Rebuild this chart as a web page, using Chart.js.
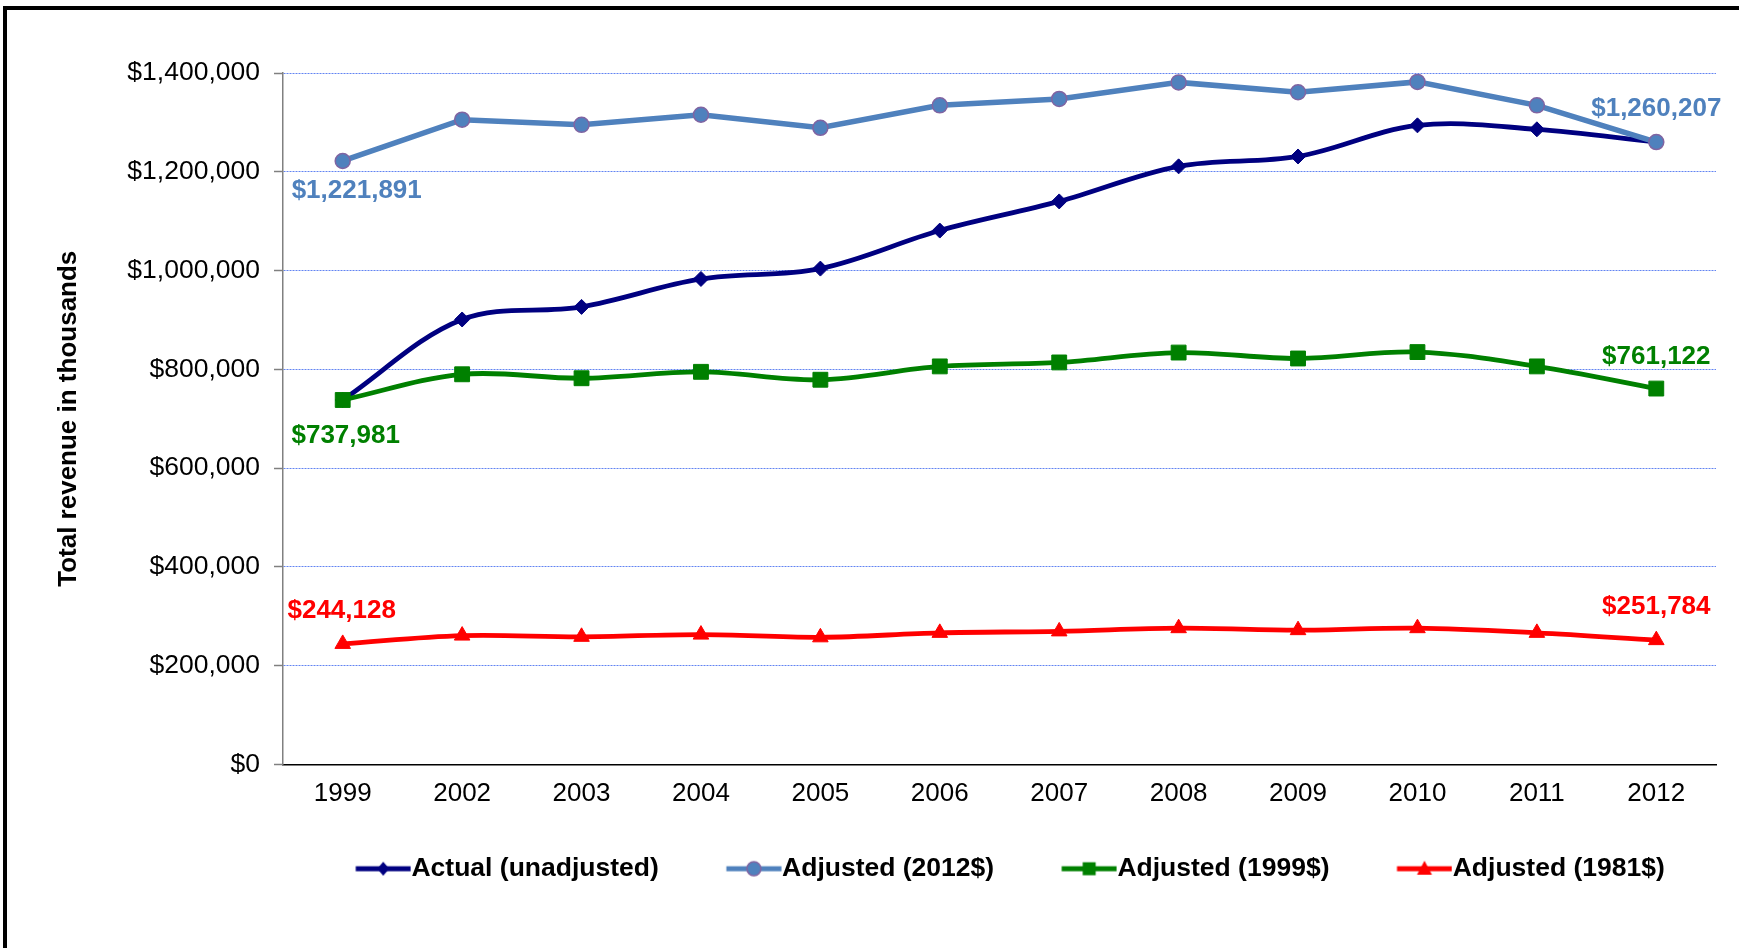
<!DOCTYPE html>
<html>
<head>
<meta charset="utf-8">
<title>Total revenue in thousands, 1999–2012</title>
<script src="https://cdn.jsdelivr.net/npm/chart.js@4/dist/chart.umd.min.js"></script>
<style>
  html, body { margin: 0; padding: 0; background: #fff; }
  #wrap { position: relative; width: 1739px; height: 948px; overflow: hidden; }
  #frame { position: absolute; left: 3px; top: 6px; right: -10px; bottom: -10px;
           border-left: 4px solid #000; border-top: 4px solid #000; pointer-events: none; }
  canvas { position: absolute; left: 0; top: 0; }
</style>
</head>
<body>
<div id="wrap">
  <canvas id="chart" width="1739" height="948"></canvas>
  <div id="frame"></div>
</div>
<script>
// ---- data ----
const years = ['1999', '2002', '2003', '2004', '2005', '2006', '2007', '2008', '2009', '2010', '2011', '2012'];
const actualRevenue = [737981, 901000, 926500, 983000, 1004000, 1081000, 1140000, 1211000, 1231000, 1294000, 1286000, 1260207];
const adjusted2012 = [1221891, 1305500, 1295000, 1315500, 1289000, 1334500, 1347500, 1381000, 1361000, 1382000, 1334500, 1260207];
const adjusted1999 = [737981, 790000, 782000, 795000, 779000, 806000, 814000, 834000, 822000, 835000, 806000, 761122];
const adjusted1981 = [244128, 261000, 258500, 263000, 257500, 266500, 269500, 276000, 272000, 276000, 266500, 251784];
const seriesNames = ['Actual (unadjusted)', 'Adjusted (2012$)', 'Adjusted (1999$)', 'Adjusted (1981$)'];
const yTickValues = [0, 200000, 400000, 600000, 800000, 1000000, 1200000, 1400000];
const yTitle = 'Total revenue in thousands';

// ---- styling ----
const FONT = "'Liberation Sans', Arial, Helvetica, sans-serif";
const NAVY = '#000080', STEEL = '#4F81BD', PURPLE = '#8064A2', GREEN = '#008000', RED = '#FF0000';
const money = v => '$' + Math.round(v).toLocaleString('en-US');

// value callouts at the first and last year (dataset, point, offset from the point)
const callouts = [
  { ds: 1, i: 0,  dx: 14, dy: 30 },
  { ds: 1, i: 11, dx: 0,  dy: -33 },
  { ds: 2, i: 0,  dx: 3,  dy: 36 },
  { ds: 2, i: 11, dx: 0,  dy: -32 },
  { ds: 3, i: 0,  dx: -1, dy: -33 },
  { ds: 3, i: 11, dx: 0,  dy: -33 }
];

// legend swatch: a short line segment with the series marker in its middle.
// The legend box is 64px wide; the swatch canvas is centred on it and its
// right edge meets the start of the label text.
const SWATCH_BOX = 64;
function swatch(color, marker) {
  const c = document.createElement('canvas');
  c.width = 90; c.height = 22;
  const g = c.getContext('2d');
  const x0 = 34.5, x1 = 89.5, y = 11, cx = (x0 + x1) / 2;
  g.strokeStyle = color; g.lineWidth = 5; g.lineCap = 'butt';
  g.beginPath(); g.moveTo(x0, y); g.lineTo(x1, y); g.stroke();
  g.fillStyle = color;
  g.beginPath();
  if (marker === 'diamond') {
    g.moveTo(cx, y - 7); g.lineTo(cx + 6, y); g.lineTo(cx, y + 7); g.lineTo(cx - 6, y); g.closePath(); g.fill();
  } else if (marker === 'circle') {
    g.arc(cx, y, 7, 0, Math.PI * 2); g.fill();
    g.strokeStyle = PURPLE; g.lineWidth = 1.5; g.stroke();
  } else if (marker === 'square') {
    g.rect(cx - 6.5, y - 6.5, 13, 13); g.fill();
  } else if (marker === 'triangle') {
    g.moveTo(cx, y - 8); g.lineTo(cx + 7.5, y + 6); g.lineTo(cx - 7.5, y + 6); g.closePath(); g.fill();
  }
  return c;
}
const legendSwatches = [
  swatch(NAVY, 'diamond'), swatch(STEEL, 'circle'), swatch(GREEN, 'square'), swatch(RED, 'triangle')
];

const calloutPlugin = {
  id: 'callouts',
  afterDatasetsDraw(chart) {
    const ctx = chart.ctx;
    ctx.save();
    ctx.font = 'bold 26px ' + FONT;
    ctx.textAlign = 'center';
    ctx.textBaseline = 'middle';
    callouts.forEach(c => {
      const ds = chart.data.datasets[c.ds];
      const pt = chart.getDatasetMeta(c.ds).data[c.i];
      ctx.fillStyle = ds.borderColor;
      ctx.fillText(money(ds.data[c.i]), pt.x + c.dx, pt.y + c.dy);
    });
    ctx.restore();
  }
};

const PAD_LEFT = 38;

new Chart(document.getElementById('chart'), {
  type: 'line',
  data: {
    labels: years,
    datasets: [
      { label: seriesNames[0], data: actualRevenue, order: 3,
        borderColor: NAVY, backgroundColor: NAVY, borderWidth: 4.8, tension: 0.35,
        pointStyle: 'rectRot', pointRadius: 7.5, pointBackgroundColor: NAVY, pointBorderColor: NAVY, pointBorderWidth: 1 },
      { label: seriesNames[1], data: adjusted2012, order: 2,
        borderColor: STEEL, backgroundColor: STEEL, borderWidth: 5.5, tension: 0,
        pointStyle: 'circle', pointRadius: 7.5, pointBackgroundColor: STEEL, pointBorderColor: PURPLE, pointBorderWidth: 1.5 },
      { label: seriesNames[2], data: adjusted1999, order: 1,
        borderColor: GREEN, backgroundColor: GREEN, borderWidth: 4.8, tension: 0.35,
        pointStyle: 'rect', pointRadius: 10.5, pointBackgroundColor: GREEN, pointBorderColor: GREEN, pointBorderWidth: 1 },
      { label: seriesNames[3], data: adjusted1981, order: 0,
        borderColor: RED, backgroundColor: RED, borderWidth: 4.8, tension: 0.35,
        pointStyle: 'triangle', pointRadius: 9, pointBackgroundColor: RED, pointBorderColor: RED, pointBorderWidth: 1 }
    ]
  },
  options: {
    responsive: false,
    animation: false,
    devicePixelRatio: 1,
    events: [],
    layout: { padding: { left: PAD_LEFT, top: 73, right: 23, bottom: 56 } },
    scales: {
      x: {
        type: 'category',
        offset: true,
        grid: { display: false, drawTicks: false },
        border: { display: true, color: '#000', width: 1.5 },
        ticks: { color: '#000', font: { family: FONT, size: 26 }, padding: 13.5 },
        afterFit: s => { s.height = 45; }
      },
      y: {
        min: 0,
        max: 1400000,
        afterBuildTicks: s => { s.ticks = yTickValues.map(v => ({ value: v })); },
        grid: { color: 'rgba(70,110,240,0.85)', lineWidth: 1, tickColor: '#808080', tickLength: 9, tickWidth: 1.5 },
        border: { display: true, color: '#808080', width: 1.5, dash: [2, 1] },
        ticks: { color: '#000', font: { family: FONT, size: 26.5 }, padding: 14, callback: v => money(v) },
        title: { display: true, text: yTitle, color: '#000', font: { family: FONT, size: 26, weight: 'bold' },
                 padding: { top: 15, bottom: 0 } },
        afterFit: s => { s.width = 283 - PAD_LEFT; }
      }
    },
    plugins: {
      tooltip: { enabled: false },
      legend: {
        position: 'bottom',
        fullSize: false,
        labels: {
          color: '#000',
          font: { family: FONT, size: 26.5, weight: 'bold' },
          usePointStyle: true,
          pointStyleWidth: SWATCH_BOX,
          padding: 46,
          sort: (a, b) => a.datasetIndex - b.datasetIndex,
          generateLabels(chart) {
            const items = Chart.defaults.plugins.legend.labels.generateLabels(chart);
            items.forEach(it => { it.pointStyle = legendSwatches[it.datasetIndex]; it.lineWidth = 0; });
            return items;
          }
        }
      }
    }
  },
  plugins: [calloutPlugin]
});
</script>
</body>
</html>
